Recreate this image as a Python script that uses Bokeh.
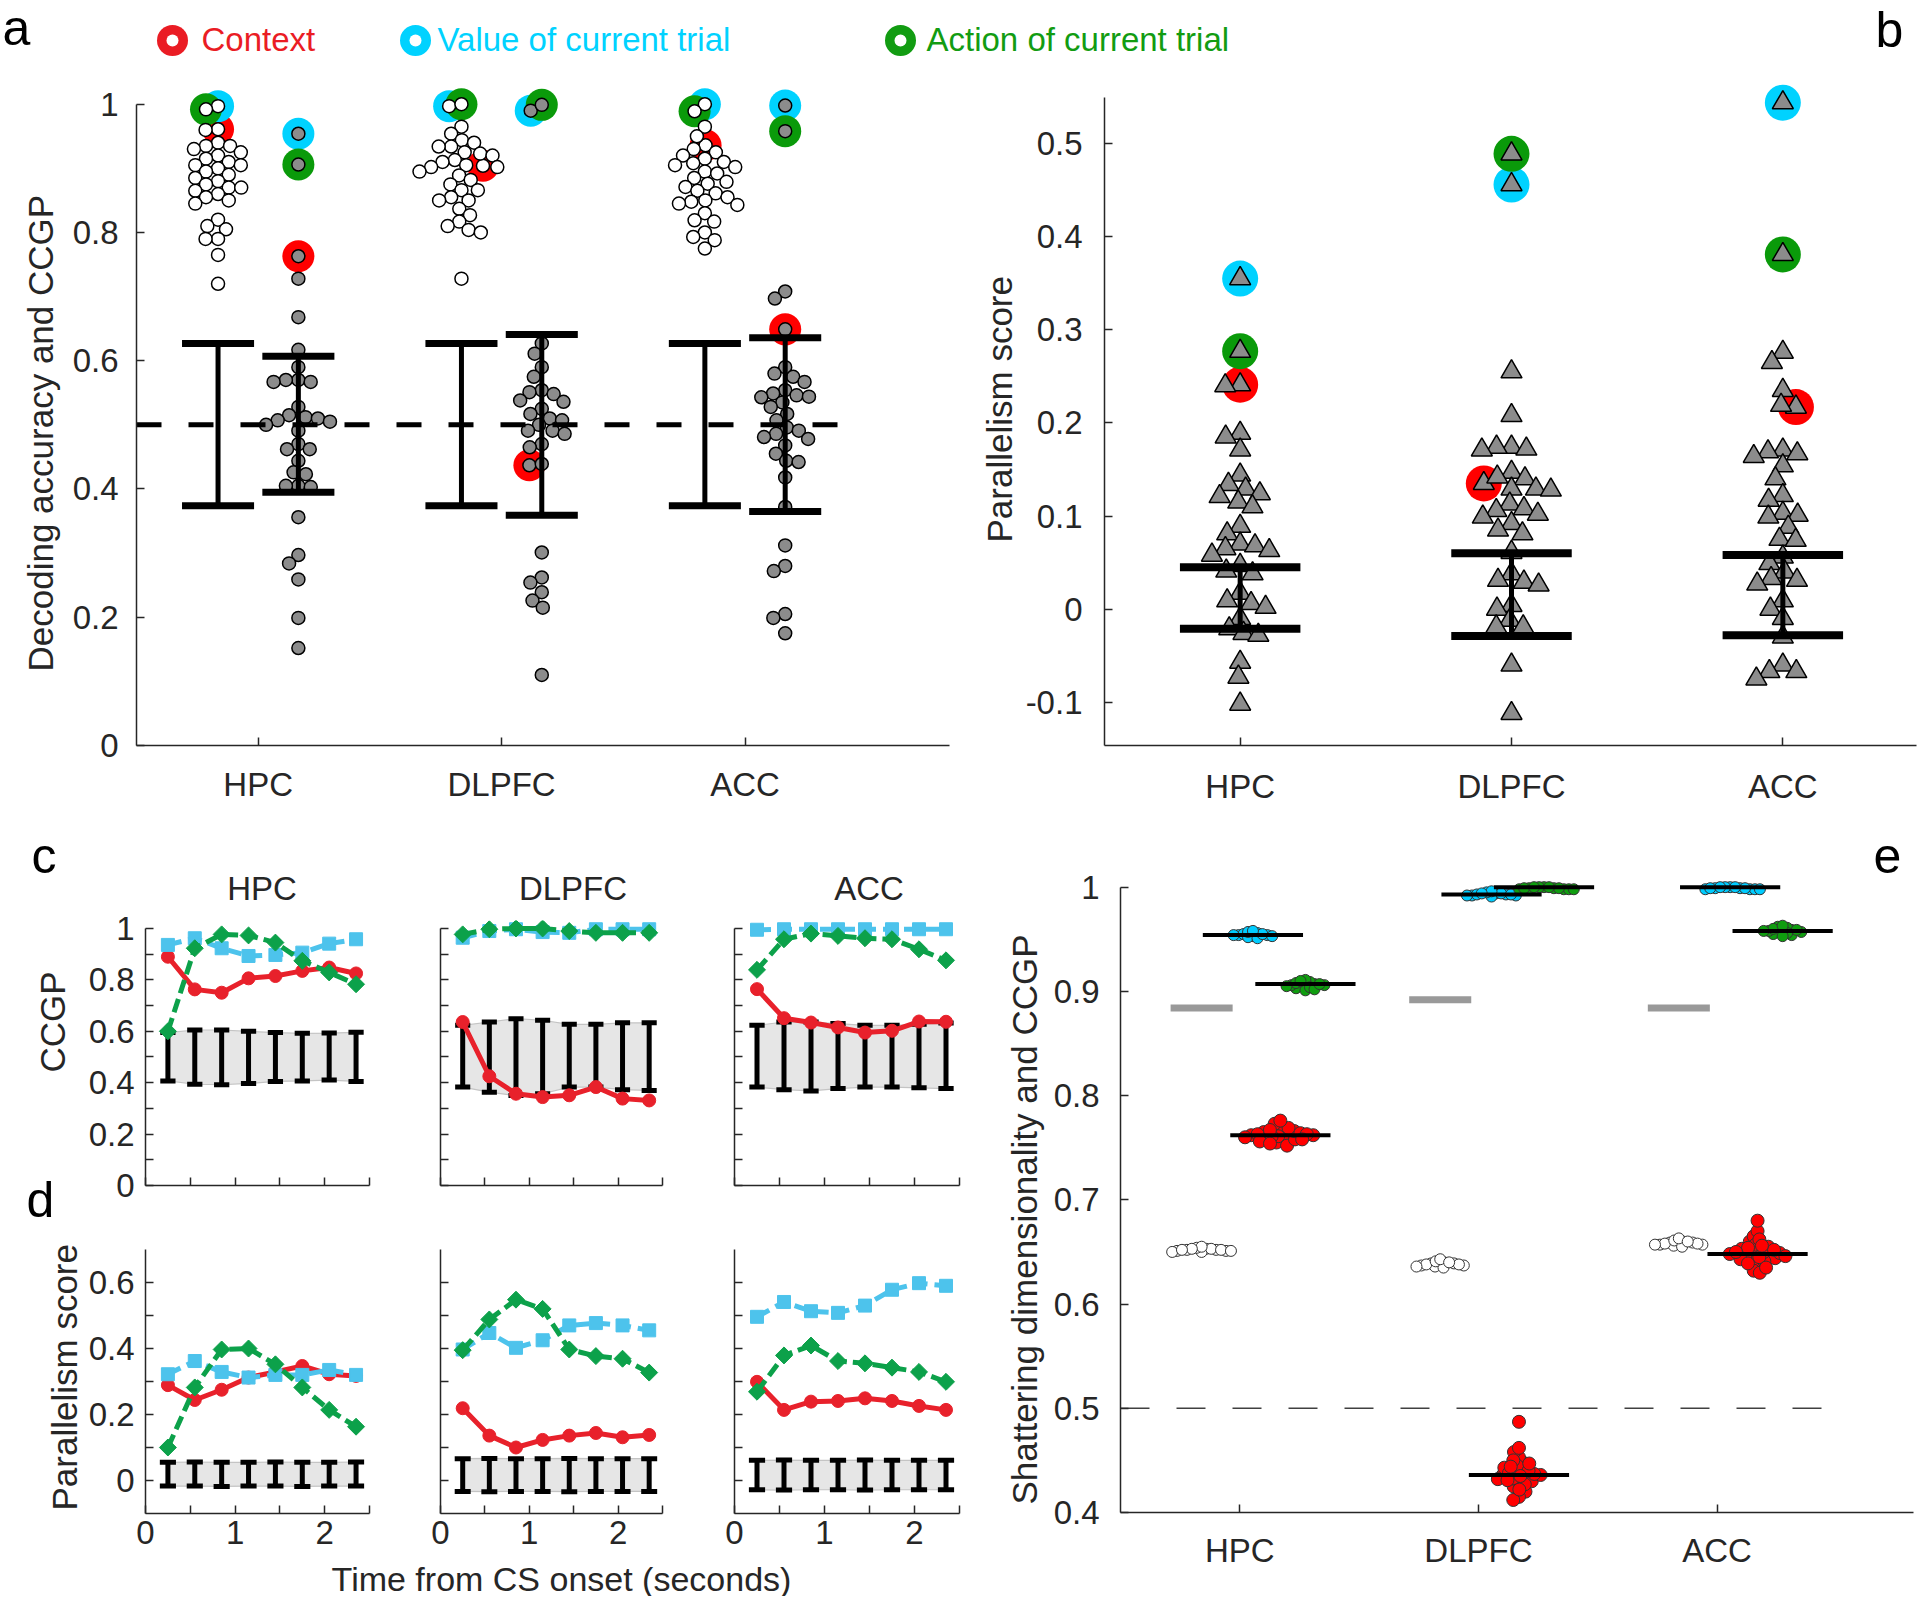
import numpy as np
from bokeh.plotting import figure
from bokeh.models import Range1d, FixedTicker
from bokeh.layouts import row, column
from bokeh.embed import file_html
from bokeh.resources import INLINE
from bokeh.core.properties import value

FONT = "Liberation Sans"
AXC = "#262626"

# ---------------- data ----------------
areas = ["HPC", "DLPFC", "ACC"]
legend_names = ["Context", "Value of current trial", "Action of current trial"]
legend_colors = ["#ea1c24", "#00d2ff", "#129c12"]
ring_colors = ["#ff0000", "#00d2ff", "#0a9a0a"]          # context, value, action (panels a, b)
line_colors = ["#e8212b", "#4dc3ec", "#0ca14a"]          # context, value, action (panels c, d)
e_colors = ["#ff0000", "#00ccff", "#0f9d0f"]             # context, value, action (panel e)

# panel a: decoding accuracy (white) and CCGP (gray)
a_dec_context = [0.961, 0.904, 0.936]
a_dec_value = [0.997, 0.997, 1.000]
a_dec_action = [0.992, 1.000, 0.989]
a_dec_other_hpc = [0.96, 0.94, 0.935, 0.935, 0.93, 0.925, 0.92, 0.915, 0.91, 0.905, 0.905, 0.90, 0.895,
                   0.89, 0.885, 0.88, 0.875, 0.87, 0.87, 0.865, 0.86, 0.855, 0.85, 0.845, 0.82, 0.81,
                   0.805, 0.79, 0.79, 0.765, 0.72]
a_dec_other_dlpfc = [0.965, 0.954, 0.944, 0.94, 0.934, 0.934, 0.925, 0.923, 0.92, 0.913, 0.91, 0.905,
                     0.902, 0.902, 0.895, 0.889, 0.882, 0.875, 0.866, 0.866, 0.855, 0.85, 0.85, 0.837,
                     0.827, 0.817, 0.81, 0.804, 0.80, 0.728]
a_dec_other_acc = [0.965, 0.95, 0.93, 0.925, 0.92, 0.915, 0.91, 0.908, 0.905, 0.902, 0.895, 0.892, 0.885,
                   0.879, 0.876, 0.871, 0.865, 0.861, 0.855, 0.85, 0.848, 0.845, 0.843, 0.83, 0.819,
                   0.817, 0.80, 0.793, 0.788, 0.775]
a_ccgp_context = [0.763, 0.437, 0.649]
a_ccgp_value = [0.954, 0.990, 0.998]
a_ccgp_action = [0.906, 0.999, 0.958]
a_ccgp_other_hpc = [0.728, 0.668, 0.617, 0.59, 0.57, 0.57, 0.567, 0.567, 0.528, 0.515, 0.512, 0.51, 0.507,
                    0.505, 0.50, 0.491, 0.47, 0.462, 0.462, 0.444, 0.426, 0.423, 0.405, 0.405, 0.403,
                    0.356, 0.297, 0.284, 0.259, 0.199, 0.152]
a_ccgp_other_dlpfc = [0.627, 0.611, 0.59, 0.575, 0.554, 0.551, 0.548, 0.538, 0.536, 0.525, 0.517, 0.51,
                      0.507, 0.50, 0.491, 0.491, 0.486, 0.47, 0.465, 0.439, 0.301, 0.262, 0.254, 0.239,
                      0.226, 0.215, 0.11]
a_ccgp_other_acc = [0.708, 0.697, 0.59, 0.58, 0.575, 0.567, 0.554, 0.549, 0.546, 0.544, 0.543, 0.535,
                    0.528, 0.517, 0.507, 0.496, 0.491, 0.486, 0.481, 0.478, 0.468, 0.455, 0.444, 0.442,
                    0.418, 0.372, 0.312, 0.28, 0.272, 0.205, 0.199, 0.175]
a_null_top = [0.627, 0.627, 0.627]
a_null_bot = [0.374, 0.374, 0.374]
a_ccgp_top = [0.607, 0.641, 0.636]
a_ccgp_bot = [0.395, 0.359, 0.365]
a_chance = 0.5

# panel b: parallelism score
b_context = [0.241, 0.135, 0.217]
b_value = [0.355, 0.456, 0.544]
b_action = [0.277, 0.489, 0.381]
b_other_hpc = [0.24, 0.189, 0.185, 0.171, 0.144, 0.134, 0.129, 0.124, 0.121, 0.115, 0.110, 0.089, 0.081,
               0.07, 0.068, 0.065, 0.063, 0.058, 0.047, 0.041, 0.038, 0.017, 0.009, 0.006, 0.002, -0.01,
               -0.021, -0.026, -0.028, -0.057, -0.073, -0.102]
b_other_dlpfc = [0.255, 0.208, 0.174, 0.174, 0.172, 0.171, 0.147, 0.142, 0.14, 0.129, 0.129, 0.128, 0.113,
                 0.108, 0.106, 0.102, 0.099, 0.092, 0.085, 0.081, 0.061, 0.038, 0.031, 0.029, 0.026,
                 0.004, 0.0, -0.012, -0.019, -0.019, -0.06, -0.112]
b_other_acc = [0.276, 0.265, 0.235, 0.219, 0.171, 0.169, 0.167, 0.164, 0.154, 0.14, 0.122, 0.117, 0.103,
               0.101, 0.099, 0.088, 0.075, 0.074, 0.056, 0.049, 0.04, 0.033, 0.031, 0.027, 0.009, 0.0,
               -0.01, -0.03, -0.06, -0.067, -0.067, -0.075]
b_bar_top = [0.045, 0.060, 0.058]
b_bar_bot = [-0.021, -0.029, -0.028]

# panels c, d: time courses
times = [0.25, 0.55, 0.85, 1.15, 1.45, 1.75, 2.05, 2.35]
c_context = [[0.89, 0.763, 0.75, 0.806, 0.815, 0.835, 0.848, 0.825],
             [0.636, 0.425, 0.357, 0.344, 0.351, 0.383, 0.338, 0.331],
             [0.764, 0.651, 0.634, 0.615, 0.595, 0.602, 0.638, 0.637]]
c_value = [[0.936, 0.962, 0.923, 0.893, 0.897, 0.906, 0.941, 0.958],
           [0.964, 0.99, 0.997, 0.986, 0.983, 0.997, 0.997, 0.997],
           [0.995, 0.997, 0.997, 0.997, 0.997, 0.997, 0.997, 0.997]]
c_action = [[0.60, 0.923, 0.977, 0.973, 0.945, 0.874, 0.829, 0.783],
            [0.977, 0.997, 1.0, 1.0, 0.99, 0.983, 0.983, 0.983],
            [0.839, 0.958, 0.98, 0.971, 0.962, 0.958, 0.919, 0.876]]
c_null_top = [[0.595, 0.605, 0.605, 0.60, 0.595, 0.592, 0.593, 0.596],
              [0.623, 0.636, 0.649, 0.643, 0.627, 0.627, 0.633, 0.633],
              [0.623, 0.636, 0.636, 0.63, 0.623, 0.623, 0.627, 0.632]]
c_null_bot = [[0.407, 0.394, 0.392, 0.397, 0.405, 0.407, 0.41, 0.405],
              [0.383, 0.363, 0.35, 0.357, 0.383, 0.383, 0.373, 0.37],
              [0.383, 0.373, 0.368, 0.377, 0.383, 0.383, 0.38, 0.377]]
d_context = [[0.289, 0.244, 0.275, 0.312, 0.329, 0.347, 0.322, 0.317],
             [0.219, 0.136, 0.10, 0.123, 0.136, 0.144, 0.131, 0.138],
             [0.299, 0.214, 0.239, 0.241, 0.249, 0.241, 0.226, 0.214]]
d_value = [[0.322, 0.362, 0.329, 0.312, 0.32, 0.32, 0.335, 0.32],
           [0.397, 0.447, 0.402, 0.425, 0.47, 0.477, 0.47, 0.455],
           [0.496, 0.541, 0.513, 0.508, 0.53, 0.578, 0.598, 0.59]]
d_action = [[0.10, 0.282, 0.397, 0.40, 0.352, 0.282, 0.214, 0.163],
            [0.395, 0.488, 0.548, 0.52, 0.397, 0.377, 0.369, 0.327],
            [0.269, 0.379, 0.409, 0.362, 0.355, 0.342, 0.329, 0.299]]
d_null_top = [[0.055, 0.056, 0.055, 0.055, 0.056, 0.055, 0.055, 0.056],
              [0.066, 0.067, 0.066, 0.066, 0.067, 0.066, 0.066, 0.066],
              [0.061, 0.062, 0.061, 0.061, 0.062, 0.061, 0.061, 0.061]]
d_null_bot = [[-0.017, -0.017, -0.018, -0.017, -0.017, -0.018, -0.017, -0.017],
              [-0.033, -0.034, -0.033, -0.033, -0.034, -0.033, -0.033, -0.033],
              [-0.028, -0.029, -0.028, -0.028, -0.029, -0.028, -0.028, -0.028]]

# panel e: shattering dimensionality (white) and CCGP of the variables
e_null = [0.884, 0.892, 0.884]
e_sd = [[0.652, 0.651, 0.653, 0.650, 0.654, 0.652, 0.651, 0.653, 0.652, 0.650, 0.655, 0.651, 0.653, 0.652],
        [0.638, 0.637, 0.639, 0.636, 0.640, 0.638, 0.635, 0.641, 0.637, 0.639, 0.643, 0.638, 0.636, 0.640],
        [0.658, 0.657, 0.659, 0.656, 0.660, 0.658, 0.661, 0.657, 0.659, 0.655, 0.663, 0.658, 0.660, 0.657]]
e_value = [[0.954, 0.953, 0.955, 0.952, 0.956, 0.954, 0.951, 0.957, 0.953, 0.955, 0.954, 0.958],
           [0.993, 0.992, 0.994, 0.991, 0.995, 0.993, 0.992, 0.994, 0.993, 0.996, 0.992, 0.994],
           [0.999, 0.998, 1.000, 0.999, 0.998, 1.000, 0.999, 0.998, 1.000, 0.999, 0.998, 1.000]]
e_action = [[0.906, 0.905, 0.907, 0.903, 0.909, 0.906, 0.901, 0.911, 0.904, 0.908, 0.906, 0.902, 0.910, 0.905, 0.907],
            [0.999, 0.998, 1.000, 0.999, 0.998, 1.000, 0.999, 0.998, 1.000, 0.999, 0.998, 1.000],
            [0.958, 0.957, 0.959, 0.955, 0.961, 0.958, 0.954, 0.962, 0.956, 0.960, 0.958, 0.953, 0.963, 0.957, 0.959]]
e_context = [[0.762, 0.760, 0.764, 0.757, 0.767, 0.762, 0.755, 0.770, 0.759, 0.765, 0.761, 0.752, 0.773,
              0.758, 0.766, 0.763, 0.756, 0.769, 0.761, 0.764, 0.776, 0.754, 0.760, 0.767, 0.763, 0.758],
             [0.436, 0.434, 0.439, 0.430, 0.443, 0.436, 0.425, 0.448, 0.432, 0.441, 0.437, 0.420, 0.453,
              0.429, 0.445, 0.438, 0.415, 0.458, 0.433, 0.440, 0.462, 0.412, 0.427, 0.450, 0.435, 0.444,
              0.431, 0.487, 0.422, 0.447],
             [0.648, 0.646, 0.651, 0.642, 0.655, 0.648, 0.637, 0.660, 0.644, 0.653, 0.649, 0.632, 0.665,
              0.641, 0.657, 0.650, 0.630, 0.670, 0.645, 0.652, 0.680, 0.635, 0.647, 0.662, 0.643, 0.656,
              0.639, 0.654, 0.646, 0.650]]
e_value_med = [0.954, 0.993, 1.000]
e_action_med = [0.907, 1.000, 0.958]
e_context_med = [0.762, 0.436, 0.648]
e_chance = 0.5


# ---------------- helpers ----------------
def swarm(vals, center, px_x, px_y, d):
    """Beeswarm x positions (data units) so markers of diameter d px do not overlap."""
    order = sorted(range(len(vals)), key=lambda i: -vals[i])
    placed, out = [], [center] * len(vals)
    for i in order:
        y = vals[i] * px_y
        cands = [0.0]
        for (qx, qy) in placed:
            dy = y - qy
            if abs(dy) < d:
                dx = (d * d - dy * dy) ** 0.5
                cands += [qx + dx, qx - dx]
        cands.sort(key=lambda c: (abs(c), c))
        chosen = 0.0
        for c in cands:
            if all((c - qx) ** 2 + (y - qy) ** 2 >= d * d - 1e-6 for qx, qy in placed):
                chosen = c
                break
        placed.append((chosen, y))
        out[i] = center + chosen / px_x
    return out


def lab(t):
    s = ("%.2f" % t).rstrip("0").rstrip(".")
    return "0" if s in ("-0", "") else s


def make_fig(w, h, xr, yr, ml, mr, mt, mb):
    p = figure(width=w, height=h, x_range=Range1d(*xr), y_range=Range1d(*yr),
               min_border_left=ml, min_border_right=mr, min_border_top=mt, min_border_bottom=mb,
               output_backend="svg", toolbar_location=None)
    p.grid.visible = False
    p.outline_line_color = None
    p.background_fill_color = "white"
    p.border_fill_color = "white"
    return p


def strip(x0, x1, y0, y1, mt=0, mb=0):
    """Blank figure whose data coordinates are the page pixels it covers (for free-standing texts).
    mt/mb match the top/bottom borders of the plots it sits next to in a row."""
    p = figure(width=x1 - x0, height=y1 - y0, x_range=Range1d(x0, x1), y_range=Range1d(y1 - mb, y0 + mt),
               min_border=0, min_border_top=mt, min_border_bottom=mb,
               x_axis_type=None, y_axis_type=None,
               output_backend="svg", toolbar_location=None)
    p.outline_line_color = None
    p.background_fill_color = "white"
    p.border_fill_color = "white"
    return p


def txt(p, x, y, text, size="34px", angle=0.0, align="center", color=AXC):
    p.text(x=[x], y=[y], text=[text], angle=angle, text_align=align, text_baseline="alphabetic",
           text_font=value(FONT), text_font_size=size, text_color=color)


def style(p, xticks, xlabels, yticks, ylabels, xminor=None, yminor=None, ybounds=None,
          xstand=20, ystand=18, fs="33px"):
    p.xaxis.ticker = FixedTicker(ticks=xticks, minor_ticks=xminor or [])
    p.yaxis.ticker = FixedTicker(ticks=yticks, minor_ticks=yminor or [])
    p.xaxis.major_label_overrides = dict(zip(xticks, xlabels))
    p.yaxis.major_label_overrides = dict(zip(yticks, ylabels))
    if ybounds is not None:
        p.yaxis.bounds = ybounds
    for ax in p.axis:
        ax.axis_line_color = AXC
        ax.axis_line_width = 1.5
        ax.major_tick_line_color = AXC
        ax.major_tick_line_width = 1.5
        ax.minor_tick_line_color = AXC
        ax.minor_tick_line_width = 1.5
        ax.major_tick_in = 8
        ax.major_tick_out = 0
        ax.minor_tick_in = 8
        ax.minor_tick_out = 0
        ax.major_label_text_font = FONT
        ax.major_label_text_font_size = fs
        ax.major_label_text_color = AXC
    p.xaxis.major_label_standoff = xstand
    p.yaxis.major_label_standoff = ystand


VERT = np.pi / 2

# ---------------- header (legend + letters a, b) ----------------
hdr = strip(0, 1918, 0, 70)
ring_x = [172, 415, 900]
text_x = [201, 437, 926]
hdr.scatter(x=ring_x, y=[40, 40, 40], size=31, fill_color=legend_colors, line_color=None)
hdr.scatter(x=ring_x, y=[40, 40, 40], size=12, fill_color="white", line_color=None)
hdr.text(x=text_x, y=[38.5, 38.5, 38.5], text=legend_names, text_color=legend_colors,
         text_font=value(FONT), text_font_size="33px", text_baseline="alphabetic")
txt(hdr, 2, 27.5, "a", size="50px", align="left", color="black")
txt(hdr, 1875, 29.5, "b", size="50px", align="left", color="black")

# ---------------- panel a ----------------
sA = strip(0, 62, 70, 818, mt=10, mb=73)
txt(sA, 40, 671, "Decoding accuracy and CCGP", size="35px", angle=VERT, align="left")
pa = make_fig(898, 748, (0.5, 3.84), (0, 1.037), 74, 11, 10, 73)
a_dec_other = [a_dec_other_hpc, a_dec_other_dlpfc, a_dec_other_acc]
a_ccgp_other = [a_ccgp_other_hpc, a_ccgp_other_dlpfc, a_ccgp_other_acc]
for k in range(3):
    for vals, ctr, fill in [
        ([a_dec_context[k], a_dec_value[k], a_dec_action[k]] + a_dec_other[k], k + 1 - 0.165, "white"),
        ([a_ccgp_context[k], a_ccgp_value[k], a_ccgp_action[k]] + a_ccgp_other[k], k + 1 + 0.165, "#8c8c8c"),
    ]:
        xs = swarm(vals, ctr, 244, 641, 12.5)
        pa.scatter(xs[:3], vals[:3], size=32, fill_color=ring_colors, line_color=None)
        pa.scatter(xs, vals, size=13, fill_color=fill, line_color="black", line_width=1.5)
xn = [k + 1 - 0.165 for k in range(3)]
xg = [k + 1 + 0.165 for k in range(3)]
for xc, top, bot in [(xn, a_null_top, a_null_bot), (xg, a_ccgp_top, a_ccgp_bot)]:
    pa.segment(x0=xc, y0=bot, x1=xc, y1=top, line_width=5, line_color="black")
    for yy in (top, bot):
        pa.segment(x0=[x - 0.148 for x in xc], y0=yy, x1=[x + 0.148 for x in xc], y1=yy,
                   line_width=7, line_color="black")
pa.line(x=[0.5, 3.41], y=[a_chance, a_chance], line_width=5, line_color="black", line_dash="25 27")
style(pa, [1, 2, 3], areas, [0, 0.2, 0.4, 0.6, 0.8, 1.0], [lab(t) for t in [0, 0.2, 0.4, 0.6, 0.8, 1.0]],
      ybounds=(0, 1), xstand=20, ystand=18)

# ---------------- panel b ----------------
sB = strip(960, 1022, 70, 818, mt=10, mb=73)
txt(sB, 999, 542, "Parallelism score", size="35px", angle=VERT, align="left")
pb = make_fig(896, 748, (0.5, 3.4926), (-0.1465, 0.5678), 80, 2, 10, 73)
b_other = [b_other_hpc, b_other_dlpfc, b_other_acc]
for k in range(3):
    vals = [b_context[k], b_value[k], b_action[k]] + b_other[k]
    xs = swarm(vals, k + 1, 272, 931, 15)
    pb.scatter(xs[:3], vals[:3], size=36, fill_color=ring_colors, line_color=None)
    pb.scatter(xs, vals, marker="triangle", size=21, fill_color="#8c8c8c", line_color="black", line_width=1.5)
xb = [1, 2, 3]
pb.segment(x0=xb, y0=b_bar_bot, x1=xb, y1=b_bar_top, line_width=5, line_color="black")
for yy in (b_bar_top, b_bar_bot):
    pb.segment(x0=[x - 0.222 for x in xb], y0=yy, x1=[x + 0.222 for x in xb], y1=yy,
               line_width=8, line_color="black")
bt = [-0.1, 0, 0.1, 0.2, 0.3, 0.4, 0.5]
style(pb, [1, 2, 3], areas, bt, [lab(t) for t in bt], ybounds=(-0.1465, 0.55), xstand=22, ystand=22)

# ---------------- panels c, d ----------------
tC = strip(0, 1000, 818, 907)
txt(tC, 31, 855.5, "c", size="50px", align="left", color="black")
for name, xc in zip(areas, [261.5, 572.5, 868.5]):
    txt(tC, xc, 888, name, size="33px")
sL = strip(0, 84, 907, 1560)
txt(sL, 51.5, 1072, "CCGP", size="35px", angle=VERT, align="left")
txt(sL, 26, 1199.5, "d", size="50px", align="left", color="black")
txt(sL, 64, 1510, "Parallelism score", size="35px", angle=VERT, align="left")
bC = strip(0, 1000, 1560, 1596)
txt(bC, 561, 1578, "Time from CS onset (seconds)", size="34px")

col_w = [316, 300, 300]
col_ml = [61, 40, 34]
col_mr = [31, 38, 41]
tick_t = [0, 0.5, 1, 1.5, 2, 2.5]
cfigs, dfigs = [], []


def draw_time(p, ctx, val, act, ntop, nbot, cap):
    p.varea(x=times, y1=nbot, y2=ntop, fill_color="#e6e6e6")
    p.line(times, ntop, line_color="#c4c4c4", line_width=1.2)
    p.line(times, nbot, line_color="#c4c4c4", line_width=1.2)
    p.segment(x0=times, y0=nbot, x1=times, y1=ntop, line_width=5, line_color="black")
    for yy in (ntop, nbot):
        p.segment(x0=[t - cap for t in times], y0=yy, x1=[t + cap for t in times], y1=yy,
                  line_width=5, line_color="black")
    p.line(times, ctx, line_color=line_colors[0], line_width=5)
    p.scatter(times, ctx, marker="circle", size=13, fill_color=line_colors[0], line_color=line_colors[0])
    p.line(times, val, line_color=line_colors[1], line_width=5, line_dash="14 7")
    p.scatter(times, val, marker="square", size=13, fill_color=line_colors[1], line_color=line_colors[1])
    p.line(times, act, line_color=line_colors[2], line_width=5, line_dash="14 6")
    p.scatter(times, act, marker="square", angle=np.pi / 4, size=12, fill_color=line_colors[2],
              line_color=line_colors[2])


for k in range(3):
    c = make_fig(col_w[k], 323, (0, 2.5), (0, 1.031), col_ml[k], col_mr[k], 13, 45)
    draw_time(c, c_context[k], c_value[k], c_action[k], c_null_top[k], c_null_bot[k], 0.085)
    cy = [0, 0.2, 0.4, 0.6, 0.8, 1.0]
    style(c, tick_t, [""] * 6, cy, [lab(t) if k == 0 else "" for t in cy],
          yminor=[0.1, 0.3, 0.5, 0.7, 0.9], ybounds=(0, 1), xstand=0, ystand=11)
    cfigs.append(c)

    d = make_fig(col_w[k], 330, (0, 2.5), (-0.1, 0.7), col_ml[k], col_mr[k], 19, 47)
    draw_time(d, d_context[k], d_value[k], d_action[k], d_null_top[k], d_null_bot[k], 0.09)
    dy = [0, 0.2, 0.4, 0.6]
    style(d, tick_t, ["0", "", "1", "", "2", ""], dy, [lab(t) if k == 0 else "" for t in dy],
          yminor=[0.1, 0.3, 0.5], xstand=7, ystand=11)
    dfigs.append(d)

# ---------------- panel e ----------------
sE = strip(1000, 1048, 818, 1596, mt=8, mb=84)
txt(sE, 1024, 1504, "Shattering dimensionality and CCGP", size="35px", angle=VERT, align="left")
pe = make_fig(870, 778, (0.5, 3.8235), (0.4, 1.0582), 72, 5, 8, 84)
off = {"sd": -0.16, "value": 0.055, "context": 0.17, "action": 0.275}
for k in range(3):
    xc = k + 1
    pe.segment(x0=[xc + off["sd"] - 0.13], y0=[e_null[k]], x1=[xc + off["sd"] + 0.13], y1=[e_null[k]],
               line_width=7, line_color="#999999")
    xs = swarm(e_sd[k], xc + off["sd"], 238.6, 1043, 5)
    pe.scatter(xs, e_sd[k], size=11, fill_color="white", line_color="#333333", line_width=1)
    xs = swarm(e_value[k], xc + off["value"], 238.6, 1043, 5)
    pe.scatter(xs, e_value[k], size=11, fill_color=e_colors[1], line_color="#333333", line_width=1)
    xs = swarm(e_action[k], xc + off["action"], 238.6, 1043, 5)
    pe.scatter(xs, e_action[k], size=11, fill_color=e_colors[2], line_color="#333333", line_width=1)
    xs = swarm(e_context[k], xc + off["context"], 238.6, 1043, 6.5)
    pe.scatter(xs, e_context[k], size=13, fill_color=e_colors[0], line_color="#333333", line_width=1)
    for key, med in (("value", e_value_med), ("action", e_action_med), ("context", e_context_med)):
        pe.segment(x0=[xc + off[key] - 0.21], y0=[med[k]], x1=[xc + off[key] + 0.21], y1=[med[k]],
                   line_width=4, line_color="black")
pe.line(x=[0.5, 3.45], y=[e_chance, e_chance], line_width=1.5, line_color="#404040", line_dash="29 27")
et = [0.4, 0.5, 0.6, 0.7, 0.8, 0.9, 1.0]
style(pe, [1, 2, 3], areas, et, [lab(t) for t in et], ybounds=(0.4, 1.0), xstand=19, ystand=21)
txt(pe, 3.656, 1.0302, "e", size="50px", align="left", color="black")

left_block = column(tC, row(sL, column(row(*cfigs), row(*dfigs))), bC)
layout = column(hdr, row(sA, pa, sB, pb), row(left_block, sE, pe))
open("out.html", "w").write(file_html(layout, INLINE))
